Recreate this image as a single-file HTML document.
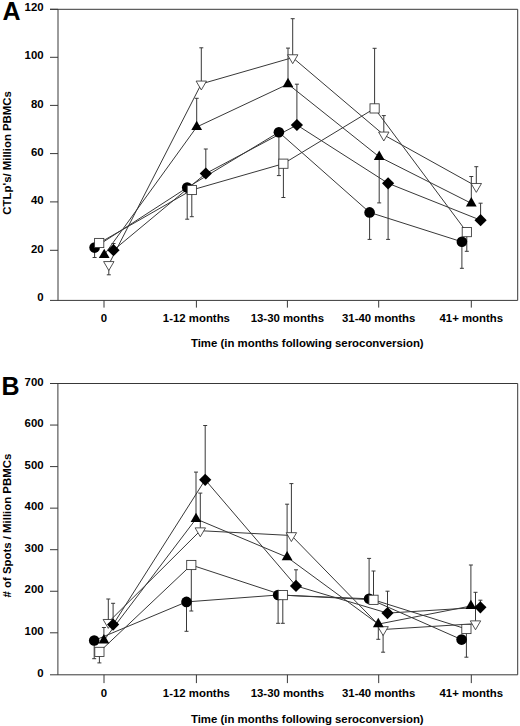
<!DOCTYPE html>
<html><head><meta charset="utf-8"><style>
html,body{margin:0;padding:0;background:#fff;}
svg{display:block;}
.t{font-family:"Liberation Sans", sans-serif;font-weight:bold;font-size:11.4px;fill:#000;}
.L{font-family:"Liberation Sans", sans-serif;font-weight:bold;font-size:25px;fill:#000;}
</style></head><body>
<svg width="520" height="726" viewBox="0 0 520 726">
<rect width="520" height="726" fill="#fff"/>
<path d="M50 9.3H517.7V300.4H50M58.0 9.3V300.4" fill="none" stroke="#383838" stroke-width="1.0"/>
<path d="M50 9.3H58.0" stroke="#383838" stroke-width="1.0"/>
<path d="M50 57.3H58.0" stroke="#383838" stroke-width="1.0"/>
<path d="M50 105.4H58.0" stroke="#383838" stroke-width="1.0"/>
<path d="M50 153.6H58.0" stroke="#383838" stroke-width="1.0"/>
<path d="M50 201.9H58.0" stroke="#383838" stroke-width="1.0"/>
<path d="M50 250.3H58.0" stroke="#383838" stroke-width="1.0"/>
<text x="43.6" y="11.2" text-anchor="end" class="t">120</text>
<text x="43.6" y="59.4" text-anchor="end" class="t">100</text>
<text x="43.6" y="107.5" text-anchor="end" class="t">80</text>
<text x="43.6" y="155.7" text-anchor="end" class="t">60</text>
<text x="43.6" y="204.1" text-anchor="end" class="t">40</text>
<text x="43.6" y="252.5" text-anchor="end" class="t">20</text>
<text x="43.6" y="300.9" text-anchor="end" class="t">0</text>
<path d="M104.0 300.4V307.59999999999997" stroke="#383838" stroke-width="1.0"/>
<text x="104.0" y="321.5" text-anchor="middle" class="t">0</text>
<path d="M196.4 300.4V307.59999999999997" stroke="#383838" stroke-width="1.0"/>
<text x="196.4" y="321.5" text-anchor="middle" class="t">1-12 months</text>
<path d="M287.4 300.4V307.59999999999997" stroke="#383838" stroke-width="1.0"/>
<text x="287.4" y="321.5" text-anchor="middle" class="t">13-30 months</text>
<path d="M378.7 300.4V307.59999999999997" stroke="#383838" stroke-width="1.0"/>
<text x="378.7" y="321.5" text-anchor="middle" class="t">31-40 months</text>
<path d="M471.3 300.4V307.59999999999997" stroke="#383838" stroke-width="1.0"/>
<text x="471.3" y="321.5" text-anchor="middle" class="t">41+ months</text>
<text x="307.3" y="347.1" text-anchor="middle" class="t">Time (in months following seroconversion)</text>
<text x="2.4" y="19.7" class="L">A</text>
<text transform="translate(10.9 152.9) rotate(-90)" text-anchor="middle" class="t">CTLp's/ Million PBMCs</text>
<path d="M94.6 247.6V257.5M92.6 257.5H96.6" stroke="#383838" stroke-width="1.0"/>
<path d="M187.2 187.6V219.2M185.2 219.2H189.2" stroke="#383838" stroke-width="1.0"/>
<path d="M278.9 132.2V175.6M276.9 175.6H280.9" stroke="#383838" stroke-width="1.0"/>
<path d="M369.6 212.4V239.4M367.6 239.4H371.6" stroke="#383838" stroke-width="1.0"/>
<path d="M461.9 241.8V268.3M459.9 268.3H463.9" stroke="#383838" stroke-width="1.0"/>
<path d="M191.8 190.0V216.7M189.8 216.7H193.8" stroke="#383838" stroke-width="1.0"/>
<path d="M283.4 163.7V197.5M281.4 197.5H285.4" stroke="#383838" stroke-width="1.0"/>
<path d="M374.6 108.4V48.3M372.6 48.3H376.6" stroke="#383838" stroke-width="1.0"/>
<path d="M466.8 232.1V251.3M464.8 251.3H468.8" stroke="#383838" stroke-width="1.0"/>
<path d="M196.7 127.0V98.3M194.7 98.3H198.7" stroke="#383838" stroke-width="1.0"/>
<path d="M288.0 84.1V48.1M286.0 48.1H290.0" stroke="#383838" stroke-width="1.0"/>
<path d="M379.2 156.8V202.9M377.2 202.9H381.2" stroke="#383838" stroke-width="1.0"/>
<path d="M471.3 203.3V176.5M469.3 176.5H473.3" stroke="#383838" stroke-width="1.0"/>
<path d="M108.8 264.4V274.8M106.8 274.8H110.8" stroke="#383838" stroke-width="1.0"/>
<path d="M201.3 83.9V47.8M199.3 47.8H203.3" stroke="#383838" stroke-width="1.0"/>
<path d="M292.7 57.6V18.7M290.7 18.7H294.7" stroke="#383838" stroke-width="1.0"/>
<path d="M383.8 134.9V115.6M381.8 115.6H385.8" stroke="#383838" stroke-width="1.0"/>
<path d="M476.3 186.3V166.7M474.3 166.7H478.3" stroke="#383838" stroke-width="1.0"/>
<path d="M113.5 250.2V243.5M111.5 243.5H115.5" stroke="#383838" stroke-width="1.0"/>
<path d="M205.8 173.5V149.0M203.8 149.0H207.8" stroke="#383838" stroke-width="1.0"/>
<path d="M296.9 125.0V84.2M294.9 84.2H298.9" stroke="#383838" stroke-width="1.0"/>
<path d="M388.1 183.3V239.4M386.1 239.4H390.1" stroke="#383838" stroke-width="1.0"/>
<path d="M480.6 220.2V203.2M478.6 203.2H482.6" stroke="#383838" stroke-width="1.0"/>
<polyline points="94.6,247.6 187.2,187.6 278.9,132.2 369.6,212.4 461.9,241.8" fill="none" stroke="#383838" stroke-width="1.0"/>
<polyline points="99.2,243.0 191.8,190.0 283.4,163.7 374.6,108.4 466.8,232.1" fill="none" stroke="#383838" stroke-width="1.0"/>
<polyline points="104.2,254.9 196.7,127.0 288.0,84.1 379.2,156.8 471.3,203.3" fill="none" stroke="#383838" stroke-width="1.0"/>
<polyline points="108.8,264.4 201.3,83.9 292.7,57.6 383.8,134.9 476.3,186.3" fill="none" stroke="#383838" stroke-width="1.0"/>
<polyline points="113.5,250.2 205.8,173.5 296.9,125.0 388.1,183.3 480.6,220.2" fill="none" stroke="#383838" stroke-width="1.0"/>
<circle cx="94.6" cy="247.6" r="5.3" fill="#000"/>
<circle cx="187.2" cy="187.6" r="5.3" fill="#000"/>
<circle cx="278.9" cy="132.2" r="5.3" fill="#000"/>
<circle cx="369.6" cy="212.4" r="5.3" fill="#000"/>
<circle cx="461.9" cy="241.8" r="5.3" fill="#000"/>
<rect x="94.60" y="238.40" width="9.2" height="9.2" fill="#fff" stroke="#333" stroke-width="0.85"/>
<rect x="187.20" y="185.40" width="9.2" height="9.2" fill="#fff" stroke="#333" stroke-width="0.85"/>
<rect x="278.80" y="159.10" width="9.2" height="9.2" fill="#fff" stroke="#333" stroke-width="0.85"/>
<rect x="370.00" y="103.80" width="9.2" height="9.2" fill="#fff" stroke="#333" stroke-width="0.85"/>
<rect x="462.20" y="227.50" width="9.2" height="9.2" fill="#fff" stroke="#333" stroke-width="0.85"/>
<path d="M108.80 270.47L114.00 261.57H103.60Z" fill="#fff" stroke="#333" stroke-width="0.85"/>
<path d="M201.30 89.97L206.50 81.07H196.10Z" fill="#fff" stroke="#333" stroke-width="0.85"/>
<path d="M292.70 63.67L297.90 54.77H287.50Z" fill="#fff" stroke="#333" stroke-width="0.85"/>
<path d="M383.80 140.97L389.00 132.07H378.60Z" fill="#fff" stroke="#333" stroke-width="0.85"/>
<path d="M476.30 192.37L481.50 183.47H471.10Z" fill="#fff" stroke="#333" stroke-width="0.85"/>
<path d="M104.20 248.67L109.60 258.02H98.80Z" fill="#000"/>
<path d="M196.70 120.77L202.10 130.12H191.30Z" fill="#000"/>
<path d="M288.00 77.87L293.40 87.22H282.60Z" fill="#000"/>
<path d="M379.20 150.57L384.60 159.92H373.80Z" fill="#000"/>
<path d="M471.30 197.07L476.70 206.42H465.90Z" fill="#000"/>
<path d="M113.50 244.10L119.60 250.20L113.50 256.30L107.40 250.20Z" fill="#000"/>
<path d="M205.80 167.40L211.90 173.50L205.80 179.60L199.70 173.50Z" fill="#000"/>
<path d="M296.90 118.90L303.00 125.00L296.90 131.10L290.80 125.00Z" fill="#000"/>
<path d="M388.10 177.20L394.20 183.30L388.10 189.40L382.00 183.30Z" fill="#000"/>
<path d="M480.60 214.10L486.70 220.20L480.60 226.30L474.50 220.20Z" fill="#000"/>
<path d="M50 383.5H517.7V674.8H50M57.9 383.5V674.8" fill="none" stroke="#383838" stroke-width="1.0"/>
<path d="M50 383.5H57.9" stroke="#383838" stroke-width="1.0"/>
<path d="M50 425.05H57.9" stroke="#383838" stroke-width="1.0"/>
<path d="M50 466.6H57.9" stroke="#383838" stroke-width="1.0"/>
<path d="M50 508.15H57.9" stroke="#383838" stroke-width="1.0"/>
<path d="M50 549.7H57.9" stroke="#383838" stroke-width="1.0"/>
<path d="M50 591.25H57.9" stroke="#383838" stroke-width="1.0"/>
<path d="M50 632.8H57.9" stroke="#383838" stroke-width="1.0"/>
<text x="43.6" y="385.7" text-anchor="end" class="t">700</text>
<text x="43.6" y="427.25" text-anchor="end" class="t">600</text>
<text x="43.6" y="468.8" text-anchor="end" class="t">500</text>
<text x="43.6" y="510.34999999999997" text-anchor="end" class="t">400</text>
<text x="43.6" y="551.9000000000001" text-anchor="end" class="t">300</text>
<text x="43.6" y="593.45" text-anchor="end" class="t">200</text>
<text x="43.6" y="635.0" text-anchor="end" class="t">100</text>
<text x="43.6" y="676.9" text-anchor="end" class="t">0</text>
<path d="M104.0 674.8V683.0999999999999" stroke="#383838" stroke-width="1.0"/>
<text x="104.0" y="697.0" text-anchor="middle" class="t">0</text>
<path d="M196.4 674.8V683.0999999999999" stroke="#383838" stroke-width="1.0"/>
<text x="196.4" y="697.0" text-anchor="middle" class="t">1-12 months</text>
<path d="M287.4 674.8V683.0999999999999" stroke="#383838" stroke-width="1.0"/>
<text x="287.4" y="697.0" text-anchor="middle" class="t">13-30 months</text>
<path d="M378.7 674.8V683.0999999999999" stroke="#383838" stroke-width="1.0"/>
<text x="378.7" y="697.0" text-anchor="middle" class="t">31-40 months</text>
<path d="M471.3 674.8V683.0999999999999" stroke="#383838" stroke-width="1.0"/>
<text x="471.3" y="697.0" text-anchor="middle" class="t">41+ months</text>
<text x="307.3" y="723.0" text-anchor="middle" class="t">Time (in months following seroconversion)</text>
<text x="1.5" y="394.6" class="L">B</text>
<text transform="translate(10.9 525.6) rotate(-90)" text-anchor="middle" class="t"># of Spots / Million PBMCs</text>
<path d="M94.2 640.5V658.7M92.2 658.7H96.2" stroke="#383838" stroke-width="1.0"/>
<path d="M186.5 601.9V631.3M184.5 631.3H188.5" stroke="#383838" stroke-width="1.0"/>
<path d="M278.1 595.0V623.3M276.1 623.3H280.1" stroke="#383838" stroke-width="1.0"/>
<path d="M369.1 598.8V558.4M367.1 558.4H371.1" stroke="#383838" stroke-width="1.0"/>
<path d="M99.4 651.9V662.9M97.4 662.9H101.4" stroke="#383838" stroke-width="1.0"/>
<path d="M191.3 565.0V611.0M189.3 611.0H193.3" stroke="#383838" stroke-width="1.0"/>
<path d="M282.8 595.1V623.3M280.8 623.3H284.8" stroke="#383838" stroke-width="1.0"/>
<path d="M373.5 599.8V571.0M371.5 571.0H375.5" stroke="#383838" stroke-width="1.0"/>
<path d="M466.4 629.0V657.2M464.4 657.2H468.4" stroke="#383838" stroke-width="1.0"/>
<path d="M103.9 640.3V627.5M101.9 627.5H105.9" stroke="#383838" stroke-width="1.0"/>
<path d="M196.0 518.9V472.1M194.0 472.1H198.0" stroke="#383838" stroke-width="1.0"/>
<path d="M287.1 557.2V504.2M285.1 504.2H289.1" stroke="#383838" stroke-width="1.0"/>
<path d="M378.3 624.1V639.3M376.3 639.3H380.3" stroke="#383838" stroke-width="1.0"/>
<path d="M470.9 606.0V565.0M468.9 565.0H472.9" stroke="#383838" stroke-width="1.0"/>
<path d="M108.3 622.3V599.0M106.3 599.0H110.3" stroke="#383838" stroke-width="1.0"/>
<path d="M200.3 530.7V493.1M198.3 493.1H202.3" stroke="#383838" stroke-width="1.0"/>
<path d="M291.4 535.5V483.6M289.4 483.6H293.4" stroke="#383838" stroke-width="1.0"/>
<path d="M383.1 629.5V652.2M381.1 652.2H385.1" stroke="#383838" stroke-width="1.0"/>
<path d="M475.5 623.7V592.3M473.5 592.3H477.5" stroke="#383838" stroke-width="1.0"/>
<path d="M113.1 624.6V603.3M111.1 603.3H115.1" stroke="#383838" stroke-width="1.0"/>
<path d="M205.2 479.8V425.5M203.2 425.5H207.2" stroke="#383838" stroke-width="1.0"/>
<path d="M296.0 585.9V569.8M294.0 569.8H298.0" stroke="#383838" stroke-width="1.0"/>
<path d="M387.5 613.1V591.2M385.5 591.2H389.5" stroke="#383838" stroke-width="1.0"/>
<path d="M480.4 607.3V600.2M478.4 600.2H482.4" stroke="#383838" stroke-width="1.0"/>
<polyline points="94.2,640.5 186.5,601.9 278.1,595.0 369.1,598.8 461.6,639.6" fill="none" stroke="#383838" stroke-width="1.0"/>
<polyline points="99.4,651.9 191.3,565.0 282.8,595.1 373.5,599.8 466.4,629.0" fill="none" stroke="#383838" stroke-width="1.0"/>
<polyline points="103.9,640.3 196.0,518.9 287.1,557.2 378.3,624.1 470.9,606.0" fill="none" stroke="#383838" stroke-width="1.0"/>
<polyline points="108.3,622.3 200.3,530.7 291.4,535.5 383.1,629.5 475.5,623.7" fill="none" stroke="#383838" stroke-width="1.0"/>
<polyline points="113.1,624.6 205.2,479.8 296.0,585.9 387.5,613.1 480.4,607.3" fill="none" stroke="#383838" stroke-width="1.0"/>
<circle cx="94.2" cy="640.5" r="5.3" fill="#000"/>
<circle cx="186.5" cy="601.9" r="5.3" fill="#000"/>
<circle cx="278.1" cy="595.0" r="5.3" fill="#000"/>
<circle cx="369.1" cy="598.8" r="5.3" fill="#000"/>
<circle cx="461.6" cy="639.6" r="5.3" fill="#000"/>
<rect x="94.80" y="647.30" width="9.2" height="9.2" fill="#fff" stroke="#333" stroke-width="0.85"/>
<rect x="186.70" y="560.40" width="9.2" height="9.2" fill="#fff" stroke="#333" stroke-width="0.85"/>
<rect x="278.20" y="590.50" width="9.2" height="9.2" fill="#fff" stroke="#333" stroke-width="0.85"/>
<rect x="368.90" y="595.20" width="9.2" height="9.2" fill="#fff" stroke="#333" stroke-width="0.85"/>
<rect x="461.80" y="624.40" width="9.2" height="9.2" fill="#fff" stroke="#333" stroke-width="0.85"/>
<path d="M108.30 628.37L113.50 619.47H103.10Z" fill="#fff" stroke="#333" stroke-width="0.85"/>
<path d="M200.30 536.77L205.50 527.87H195.10Z" fill="#fff" stroke="#333" stroke-width="0.85"/>
<path d="M291.40 541.57L296.60 532.67H286.20Z" fill="#fff" stroke="#333" stroke-width="0.85"/>
<path d="M383.10 635.57L388.30 626.67H377.90Z" fill="#fff" stroke="#333" stroke-width="0.85"/>
<path d="M475.50 629.77L480.70 620.87H470.30Z" fill="#fff" stroke="#333" stroke-width="0.85"/>
<path d="M103.90 634.07L109.30 643.42H98.50Z" fill="#000"/>
<path d="M196.00 512.67L201.40 522.02H190.60Z" fill="#000"/>
<path d="M287.10 550.97L292.50 560.32H281.70Z" fill="#000"/>
<path d="M378.30 617.87L383.70 627.22H372.90Z" fill="#000"/>
<path d="M470.90 599.77L476.30 609.12H465.50Z" fill="#000"/>
<path d="M113.10 618.50L119.20 624.60L113.10 630.70L107.00 624.60Z" fill="#000"/>
<path d="M205.20 473.70L211.30 479.80L205.20 485.90L199.10 479.80Z" fill="#000"/>
<path d="M296.00 579.80L302.10 585.90L296.00 592.00L289.90 585.90Z" fill="#000"/>
<path d="M387.50 607.00L393.60 613.10L387.50 619.20L381.40 613.10Z" fill="#000"/>
<path d="M480.40 601.20L486.50 607.30L480.40 613.40L474.30 607.30Z" fill="#000"/>
</svg></body></html>
